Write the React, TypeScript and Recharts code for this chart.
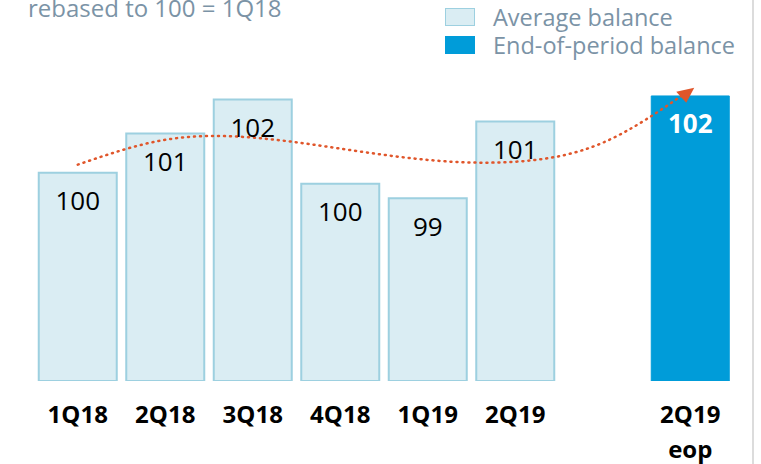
import { BarChart, Bar, Line, XAxis, YAxis, LabelList } from 'recharts'

const quarters = ['1Q18', '2Q18', '3Q18', '4Q18', '1Q19', '2Q19', '', '2Q19\neop']
const averageBalance = [100.0, 101.07, 102.0, 99.7, 99.3, 101.4, null, null]
const eopBalance = [null, null, null, null, null, null, null, 102.1]
const trendPath = [100.22, 100.9, 100.96, 100.66, 100.35, 100.3, 100.82, 102.27]
const legendItems = ['Average balance', 'End-of-period balance']

const data = quarters.map((q, i) => ({
  quarter: q,
  avg: averageBalance[i],
  eop: eopBalance[i],
  trend: trendPath[i],
}))

const FONT = '"Open Sans", sans-serif'
const LIGHT = '#daedf3'
const LIGHT_EDGE = '#9dd0e0'
const DARK = '#009cd9'
const MUTED = '#7b93a6'

function QuarterTick({ x, y, payload }: any) {
  const lines = String(payload.value).split('\n')
  return (
    <g transform={`translate(${x},${y})`}>
      {lines.map((t, i) => (
        <text key={i} x={0} y={34 + i * 35} textAnchor="middle" fill="#000" fontFamily={FONT} fontWeight={700} fontSize={24}>
          {t}
        </text>
      ))}
    </g>
  )
}

function ArrowDot(props: any) {
  const { cx, cy, index } = props
  if (index !== quarters.length - 1 || cx == null) return <g key={`d${index}`} />
  return (
    <path
      key={`d${index}`}
      d={`M${cx + 4},${cy - 2} L${cx - 14},${cy + 2} L${cx - 4},${cy + 13} Z`}
      fill="#e0562b"
    />
  )
}

export default function App() {
  return (
    <div style={{ position: 'absolute', left: 0, top: 0, width: 761, height: 464, overflow: 'hidden', background: '#fff' }}>
      <div style={{ position: 'absolute', left: 28, top: -7, fontFamily: FONT, fontSize: 24, lineHeight: '30px', color: MUTED, whiteSpace: 'nowrap' }}>
        rebased to 100 = 1Q18
      </div>
      <div style={{ position: 'absolute', left: 445, top: 3, fontFamily: FONT }}>
        {legendItems.map((name, i) => (
          <div key={name} style={{ display: 'flex', alignItems: 'center', height: 28 }}>
            <span style={{
              width: 28, height: 16, background: i === 0 ? LIGHT : DARK,
              border: `1px solid ${i === 0 ? LIGHT_EDGE : DARK}`, marginRight: 18,
            }} />
            <span style={{ color: MUTED, fontSize: 23.5, lineHeight: '28px' }}>{name}</span>
          </div>
        ))}
      </div>
      <div style={{ position: 'absolute', left: 752, top: 0, width: 2, height: 464, background: '#dcdcdc' }} />
      <BarChart width={761} height={464} data={data} margin={{ top: 85, right: 27, bottom: 0, left: 34 }} barCategoryGap={4.75}>
        <XAxis dataKey="quarter" axisLine={false} tickLine={false} height={83} interval={0} tick={<QuarterTick />} />
        <YAxis hide domain={[94.3, 102.4]} allowDataOverflow />
        <Bar dataKey="avg" name="Average balance" stackId="a" fill={LIGHT} stroke={LIGHT_EDGE} strokeWidth={2} isAnimationActive={false}>
          <LabelList dataKey="avg" position="insideTop" offset={19} formatter={(v: any) => (v == null ? '' : Math.round(v))} fill="#000" fontFamily={FONT} fontSize={26} />
        </Bar>
        <Bar dataKey="eop" name="End-of-period balance" stackId="a" fill={DARK} stroke={DARK} isAnimationActive={false}>
          <LabelList dataKey="eop" position="insideTop" offset={19} formatter={(v: any) => (v == null ? '' : Math.round(v))} fill="#fff" fontFamily={FONT} fontWeight={700} fontSize={26} />
        </Bar>
        <Line
          dataKey="trend"
          type="natural"
          stroke="#e0562b"
          strokeWidth={2.5}
          strokeDasharray="1 5"
          strokeLinecap="round"
          dot={<ArrowDot />}
          activeDot={false}
          legendType="none"
          isAnimationActive={false}
        />
      </BarChart>
    </div>
  )
}
